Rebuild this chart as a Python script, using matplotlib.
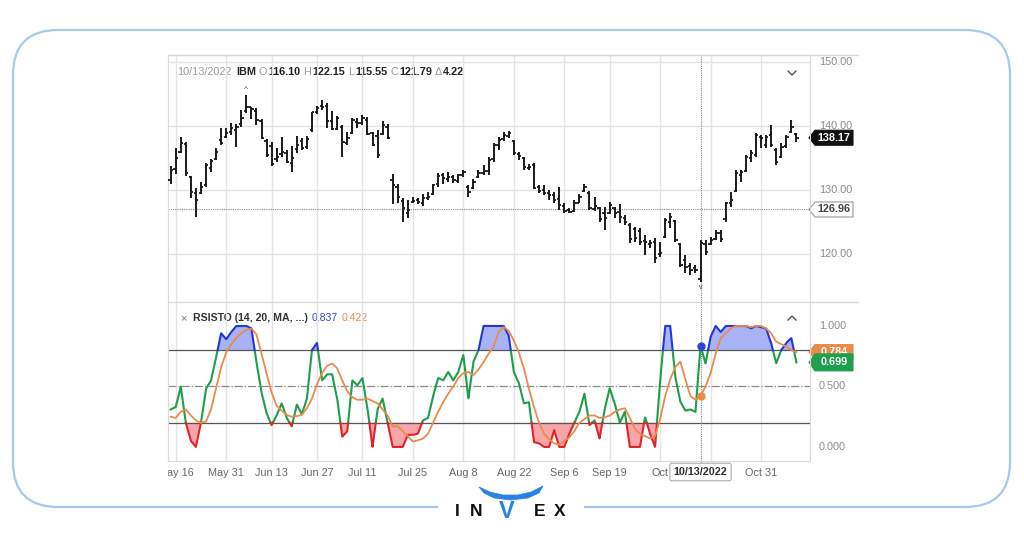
import numpy as np
import pandas as pd
import matplotlib
matplotlib.use('Agg')
import matplotlib.pyplot as plt
from matplotlib.patches import FancyBboxPatch, Rectangle, Polygon

plt.rcParams['font.family'] = ['Liberation Sans', 'DejaVu Sans']

# trading days shown (IBM, May 13 - Nov 9 2022)
holidays = ['2022-05-30', '2022-06-20', '2022-07-04', '2022-09-05']
days = pd.bdate_range('2022-05-13', '2022-11-09')
days = days[~days.isin(pd.to_datetime(holidays))]

opens = [131.60, 133.30, 135.90, 137.20, 132.00, 129.50, 129.60, 130.80, 133.50, 134.90,
         137.80, 138.30, 139.00, 139.40, 140.30, 142.40, 142.90, 142.30, 140.80, 137.60,
         136.90, 134.80, 135.60, 135.80, 134.20, 136.40, 137.60, 136.80, 139.40, 142.20,
         143.20, 143.20, 140.80, 139.60, 139.90, 137.30, 138.90, 140.70, 140.50, 141.00,
         138.90, 138.50, 138.80, 139.80, 131.50, 130.50, 128.30, 126.40, 128.10, 128.40,
         128.00, 128.80, 129.40, 130.90, 132.30, 131.70, 132.00, 131.40, 132.40, 130.50,
         130.30, 132.00, 132.70, 132.90, 134.80, 137.00, 137.90, 138.50, 137.60, 135.60,
         135.00, 133.50, 133.90, 130.40, 130.00, 129.50, 129.20, 128.60, 127.50, 126.80,
         126.70, 128.00, 129.90, 129.60, 127.00, 127.20, 126.40, 126.40, 127.20, 126.50,
         125.60, 124.60, 123.90, 123.60, 122.00, 121.60, 121.90, 120.00, 122.60, 125.00,
         125.10, 121.50, 119.00, 118.10, 117.80, 116.10, 121.50, 121.60, 122.40, 123.30,
         125.40, 128.00, 129.90, 132.30, 133.00, 135.00, 135.50, 138.30, 137.00, 138.60,
         136.20, 135.10, 136.90, 139.00, 138.70]
highs = [133.75, 136.51, 138.34, 137.45, 132.24, 130.26, 131.31, 134.17, 134.85, 136.62,
         139.64, 139.74, 140.42, 140.26, 142.50, 144.85, 143.02, 142.76, 141.05, 137.97,
         137.45, 136.51, 138.34, 136.25, 136.88, 138.44, 138.18, 138.49, 142.24, 143.18,
         144.07, 143.55, 142.35, 141.57, 140.16, 139.12, 141.20, 141.20, 141.72, 141.46,
         139.12, 139.38, 140.78, 140.26, 132.45, 130.89, 128.70, 128.44, 128.96, 128.81,
         129.33, 129.74, 130.89, 132.61, 132.61, 132.76, 132.35, 132.45, 133.13, 130.78,
         131.67, 133.13, 133.91, 135.21, 137.30, 138.34, 139.12, 139.22, 137.82, 135.99,
         135.21, 134.01, 134.17, 130.78, 130.78, 130.00, 129.74, 130.53, 127.92, 127.14,
         128.44, 129.33, 130.89, 129.85, 128.96, 127.40, 127.40, 128.08, 127.40, 127.77,
         126.10, 124.80, 124.28, 124.02, 122.97, 122.19, 122.45, 121.93, 125.58, 126.36,
         125.32, 121.67, 119.85, 118.55, 118.29, 122.15, 122.19, 122.71, 123.75, 123.75,
         128.18, 129.74, 133.13, 133.13, 135.47, 136.25, 138.86, 138.60, 138.60, 140.16,
         136.51, 137.30, 138.60, 140.94, 138.86]
lows = [130.94, 132.45, 135.73, 132.24, 128.70, 125.73, 129.38, 130.53, 132.76, 134.69,
        137.04, 138.08, 138.60, 136.77, 139.90, 142.09, 141.05, 140.16, 137.97, 135.21,
        133.75, 134.43, 135.21, 134.17, 132.76, 135.73, 136.25, 136.41, 139.12, 141.83,
        142.50, 139.64, 139.38, 139.38, 135.21, 137.04, 138.70, 139.64, 140.16, 138.60,
        136.88, 135.06, 138.60, 137.92, 127.77, 127.92, 125.06, 125.58, 127.92, 127.77,
        127.56, 128.44, 129.22, 130.53, 130.89, 131.31, 131.05, 131.05, 132.09, 128.96,
        130.16, 131.93, 132.35, 132.35, 134.43, 136.25, 137.66, 138.08, 135.47, 134.69,
        133.13, 133.13, 130.16, 129.48, 129.22, 128.44, 127.92, 126.88, 126.36, 126.36,
        126.51, 127.92, 129.74, 126.88, 126.72, 125.06, 123.75, 126.20, 125.58, 124.80,
        124.54, 121.67, 121.83, 121.41, 119.85, 120.89, 118.55, 119.59, 122.45, 124.02,
        121.93, 118.03, 116.98, 116.72, 116.98, 115.55, 119.85, 121.41, 122.19, 121.93,
        125.06, 127.40, 129.74, 131.31, 132.87, 134.43, 135.21, 136.51, 136.51, 136.77,
        133.91, 134.95, 136.51, 138.86, 137.56]
closes = [133.13, 135.06, 137.30, 132.61, 129.64, 128.44, 130.50, 133.91, 134.54, 136.00,
          137.40, 138.86, 139.64, 139.90, 141.20, 143.00, 142.66, 140.94, 138.08, 135.47,
          134.01, 135.21, 135.99, 134.43, 134.95, 137.00, 136.60, 137.90, 142.14, 142.76,
          143.02, 140.78, 139.53, 141.20, 137.56, 138.08, 140.94, 140.42, 141.20, 138.70,
          137.04, 135.47, 140.16, 138.08, 130.78, 128.96, 127.14, 126.88, 128.29, 128.18,
          128.70, 128.96, 130.78, 132.24, 131.83, 132.09, 131.57, 132.35, 132.76, 129.74,
          131.31, 132.61, 132.97, 134.69, 137.04, 137.82, 138.60, 138.86, 135.73, 135.37,
          133.65, 133.65, 130.37, 129.85, 129.48, 129.22, 128.44, 127.66, 126.72, 126.62,
          127.90, 128.96, 130.53, 127.14, 127.56, 125.50, 125.58, 127.66, 126.36, 125.84,
          125.06, 122.40, 122.45, 121.93, 121.93, 121.67, 119.33, 120.11, 125.30, 125.84,
          122.19, 118.29, 118.03, 117.50, 117.57, 121.79, 120.30, 122.19, 123.23, 122.35,
          127.92, 128.44, 132.61, 132.87, 135.21, 135.73, 138.60, 138.08, 138.30, 137.04,
          134.43, 136.77, 138.34, 139.90, 138.17]

# RSI stochastic (14, 20, MA) and its moving average
rsisto = [0.31, 0.33, 0.50, 0.20, 0.05, 0.00, 0.20, 0.48, 0.55, 0.74,
          0.94, 0.89, 0.95, 1.00, 1.00, 1.00, 0.98, 0.70, 0.45, 0.28,
          0.18, 0.26, 0.36, 0.24, 0.17, 0.35, 0.27, 0.40, 0.80, 0.86,
          0.55, 0.60, 0.60, 0.40, 0.085, 0.13, 0.55, 0.51, 0.57, 0.32,
          0.00, 0.31, 0.40, 0.20, 0.00, 0.00, 0.00, 0.10, 0.10, 0.11,
          0.22, 0.24, 0.42, 0.57, 0.55, 0.62, 0.55, 0.62, 0.76, 0.40,
          0.705, 0.80, 1.00, 1.00, 1.00, 1.00, 1.00, 0.92, 0.62, 0.53,
          0.36, 0.37, 0.04, 0.03, 0.00, 0.00, 0.14, 0.00, 0.00, 0.11,
          0.20, 0.29, 0.44, 0.18, 0.22, 0.07, 0.31, 0.485, 0.36, 0.20,
          0.29, 0.00, 0.00, 0.00, 0.245, 0.11, 0.00, 0.55, 1.00, 1.00,
          0.58, 0.375, 0.30, 0.31, 0.29, 0.837, 0.69, 0.91, 1.00, 0.95,
          1.00, 1.00, 1.00, 1.00, 1.00, 0.98, 1.00, 0.99, 0.98, 0.86,
          0.69, 0.80, 0.86, 0.90, 0.699]
signal = [0.25, 0.24, 0.29, 0.31, 0.26, 0.22, 0.20, 0.21, 0.31, 0.485,
          0.66, 0.78, 0.85, 0.90, 0.94, 0.967, 0.98, 0.93, 0.77, 0.61,
          0.45, 0.34, 0.30, 0.265, 0.25, 0.255, 0.265, 0.32, 0.40, 0.52,
          0.61, 0.67, 0.69, 0.65, 0.55, 0.46, 0.41, 0.39, 0.39, 0.40,
          0.38, 0.36, 0.31, 0.26, 0.17, 0.17, 0.13, 0.09, 0.045, 0.055,
          0.07, 0.11, 0.20, 0.29, 0.37, 0.44, 0.50, 0.57, 0.61, 0.62,
          0.595, 0.64, 0.70, 0.77, 0.83, 0.95, 0.99, 0.96, 0.88, 0.78,
          0.65, 0.48, 0.33, 0.20, 0.11, 0.065, 0.03, 0.02, 0.05, 0.08,
          0.13, 0.20, 0.23, 0.26, 0.26, 0.24, 0.245, 0.26, 0.29, 0.31,
          0.32, 0.24, 0.15, 0.11, 0.09, 0.07, 0.09, 0.23, 0.42, 0.56,
          0.66, 0.705, 0.56, 0.42, 0.39, 0.422, 0.50, 0.61, 0.77, 0.90,
          0.94, 0.98, 1.00, 1.00, 1.00, 0.99, 1.00, 1.00, 0.98, 0.94,
          0.87, 0.85, 0.83, 0.80, 0.784]

grid_dates = ['2022-05-16', '2022-05-31', '2022-06-13', '2022-06-27', '2022-07-11',
              '2022-07-25', '2022-08-08', '2022-08-22', '2022-09-06', '2022-09-19',
              '2022-10-03', '2022-10-17', '2022-10-31']
# Oct 17 sits under the cursor date box, so it has no visible label
tick_labels = ['May 16', 'May 31', 'Jun 13', 'Jun 27', 'Jul 11', 'Jul 25', 'Aug 8',
               'Aug 22', 'Sep 6', 'Sep 19', 'Oct', '', 'Oct 31']
price_ticks = [120, 130, 140, 150]
rsi_ticks = [0.0, 0.5, 1.0]
cursor_date = '2022-10-13'
cursor_price = 126.96

x = np.arange(len(days))
o, h, l, c = map(np.array, (opens, highs, lows, closes))
g = np.array(rsisto)
s = np.array(signal)
tpos = [days.get_loc(pd.Timestamp(d)) for d in grid_dates]
cx = days.get_loc(pd.Timestamp(cursor_date))
cdate = pd.Timestamp(cursor_date).strftime('%m/%d/%Y')

W, H = 1024, 538
fig = plt.figure(figsize=(W / 100, H / 100), dpi=100)
renderer = fig.canvas.get_renderer()
bg = fig.add_axes([0, 0, 1, 1])
bg.set_xlim(0, W)
bg.set_ylim(H, 0)
bg.axis('off')


def rect(lf, tp, rt, bt):
    return [lf / W, 1 - bt / H, (rt - lf) / W, (bt - tp) / H]


ax1 = fig.add_axes(rect(168, 55, 810, 302))
ax2 = fig.add_axes(rect(168, 302, 810, 461))
for ax in (ax1, ax2):
    ax.set_facecolor('none')
    ax.set_xlim(-0.53, 126.7)
    ax.set_xticks([])
    ax.set_yticks([])
    for sp in ax.spines.values():
        sp.set_color('#d9d9d9')
    for t in tpos:
        ax.axvline(t, color='#e4e4e4', lw=1, zorder=0)
ax1.set_ylim(112.5, 151.1)
ax2.set_ylim(-0.116, 1.198)


def px(ax, xv, yv):
    d = ax.transData.transform((xv, yv))
    return d[0], H - d[1]


# price panel
for p in price_ticks:
    ax1.axhline(p, color='#e4e4e4', lw=1, zorder=0)
ax1.vlines(x, l, h, color='#1a1a1a', lw=1.4, zorder=3)
ax1.hlines(o, x - 0.45, x, color='#1a1a1a', lw=1.3, zorder=3)
ax1.hlines(c, x, x + 0.45, color='#1a1a1a', lw=1.3, zorder=3)
ax1.axhline(cursor_price, color='#888888', lw=0.8, ls=(0, (1, 1)), zorder=2)
ax1.axvline(cx, color='#888888', lw=0.8, ls=(0, (1, 1)), zorder=2)
imax, imin = int(np.argmax(h)), int(np.argmin(l))
ax1.text(imax, h[imax] + 0.3, '^', ha='center', va='bottom', fontsize=6, color='#444')
ax1.text(imin, l[imin] - 0.2, 'v', ha='center', va='top', fontsize=5, color='#444')

# RSI panel
ax2.axhline(0.8, color='#555555', lw=0.9, zorder=2)
ax2.axhline(0.2, color='#555555', lw=0.9, zorder=2)
ax2.axhline(0.5, color='#8a8a8a', lw=0.9, ls='-.', zorder=2)
ax2.fill_between(x, g, 0.8, where=g >= 0.8, interpolate=True, color='#a8b3f6', lw=0, zorder=1)
ax2.fill_between(x, g, 0.2, where=g <= 0.2, interpolate=True, color='#f6a5a8', lw=0, zorder=1)
xf = np.linspace(x[0], x[-1], 6000)
gf = np.interp(xf, x, g)
ax2.plot(xf, np.ma.masked_where((gf > 0.8) | (gf < 0.2), gf), color='#1f9e4b', lw=1.5, zorder=4)
ax2.plot(xf, np.ma.masked_where(gf < 0.8, gf), color='#2437d6', lw=1.5, zorder=4)
ax2.plot(xf, np.ma.masked_where(gf > 0.2, gf), color='#e0242c', lw=1.5, zorder=4)
ax2.plot(x, s, color='#ec8a4b', lw=1.3, zorder=5)
ax2.axvline(cx, color='#888888', lw=0.8, ls=(0, (1, 1)), zorder=2)
ax2.plot(cx, g[cx], 'o', color='#2a44d8', ms=5, zorder=6)
ax2.plot(cx, s[cx], 'o', color='#ec8a4b', ms=5, zorder=6)

# right axis labels
for p in price_ticks:
    bg.text(819, px(ax1, 0, p)[1], f'{p:.2f}', ha='left', va='center', fontsize=7.8, color='#8c8c8c')
for r in rsi_ticks:
    bg.text(819, px(ax2, 0, r)[1], f'{r:.3f}', ha='left', va='center', fontsize=7.8, color='#8c8c8c')


def tag(y, text, fc, ec, tc, hh=7.5, x0=809, x1=853):
    bg.add_patch(Polygon([(x0, y), (x0 + 6, y - hh), (x1, y - hh), (x1, y + hh), (x0 + 6, y + hh)],
                         closed=True, fc=fc, ec=ec, lw=0.8, zorder=5))
    bg.text((x0 + 6 + x1) / 2, y, text, ha='center', va='center', color=tc, fontsize=7.8,
            fontweight='bold', zorder=5)


tag(px(ax1, 0, c[-1])[1], f'{c[-1]:.2f}', '#111111', '#111111', 'white')
tag(px(ax1, 0, cursor_price)[1], f'{cursor_price:.2f}', 'white', '#9a9a9a', '#444444')
tag(px(ax2, 0, s[-1])[1], f'{s[-1]:.3f}', '#ec8a4b', '#ec8a4b', 'white')
tag(px(ax2, 0, g[-1])[1], f'{g[-1]:.3f}', '#1f9e4b', '#1f9e4b', 'white', hh=8.5)


def chain(x0, y, parts, fs=7.8):
    # lay out text pieces left to right, each after the previous one's measured width
    xx = x0
    for gap, txt, col, wt in parts:
        t = bg.text(xx + gap, y, txt, color=col, fontweight=wt, fontsize=fs, ha='left', va='center')
        xx = t.get_window_extent(renderer).x1


gray, dark = '#9a9a9a', '#222222'
chain(177, 72, [(0, cdate, gray, 'normal'), (4.5, 'IBM', dark, 'bold'),
                (3, 'O', gray, 'normal'), (1, f'{o[cx]:.2f}', dark, 'bold'),
                (3, 'H', gray, 'normal'), (1, f'{h[cx]:.2f}', dark, 'bold'),
                (3, 'L', gray, 'normal'), (1, f'{l[cx]:.2f}', dark, 'bold'),
                (3, 'C', gray, 'normal'), (1, f'{c[cx]:.2f}', dark, 'bold'),
                (3, 'Δ', gray, 'normal'), (1, f'{c[cx] - c[cx - 1]:.2f}', dark, 'bold')])
bg.text(183, 318, '×', ha='center', va='center', fontsize=8, color='#777777')
chain(193, 318, [(0, 'RSISTO (14, 20, MA, ...)', '#333333', 'bold'),
                 (4, f'{g[cx]:.3f}', '#2a44d8', 'normal'),
                 (4, f'{s[cx]:.3f}', '#ec8a4b', 'normal')], fs=7.6)

bg.plot([788, 792, 796], [71, 75, 71], color='#555555', lw=1)
bg.plot([788, 792, 796], [320, 316, 320], color='#555555', lw=1)
bg.plot([168, 858], [55, 55], color='#d9d9d9', lw=1)
bg.plot([810, 858], [302, 302], color='#d9d9d9', lw=1)

# date labels
for t, lab in zip(tpos, tick_labels):
    if lab:
        bg.text(px(ax2, t, 0)[0], 473, lab, ha='center', va='center', fontsize=7.8, color='#666666')
# left edge of the chart widget clips the first label
bg.add_patch(Rectangle((120, 463), 47.5, 20, fc='white', ec='none', zorder=4))
bg.plot([px(ax2, cx, 0)[0]] * 2, [461, 465], color='#aaaaaa', lw=0.8)
bg.text(px(ax2, cx, 0)[0], 472, cdate, ha='center', va='center', fontsize=7.8,
        fontweight='bold', color='#333333', zorder=7,
        bbox=dict(boxstyle='round,pad=0.35,rounding_size=0.2', fc='white', ec='#aaaaaa', lw=0.8))

# outer frame and logo
bg.add_patch(FancyBboxPatch((13, 30), 997, 477, boxstyle='round,pad=0,rounding_size=45',
                            fc='none', ec='#a9c8ee', lw=1.6, zorder=1))
bg.add_patch(Rectangle((438, 498), 146, 16, fc='white', ec='none', zorder=2))
horn = [(479, 487), (490, 492), (503, 495), (518, 495), (531, 492), (543, 486),
        (539, 493), (528, 498), (511, 500), (494, 498), (484, 493)]
bg.add_patch(Polygon(horn, closed=True, fc='#2a82e4', ec='#2a82e4', lw=0.5, zorder=3))
for lx, ch in zip([457, 476, 540, 560], ['I', 'N', 'E', 'X']):
    bg.text(lx, 511, ch, ha='center', va='center', fontsize=12.5, fontweight='bold',
            color='#111111', zorder=3)
bg.text(507, 511, 'V', ha='center', va='center', fontsize=17, fontweight='bold',
        color='#2a82e4', zorder=3)

fig.savefig('out.png', dpi=100)
